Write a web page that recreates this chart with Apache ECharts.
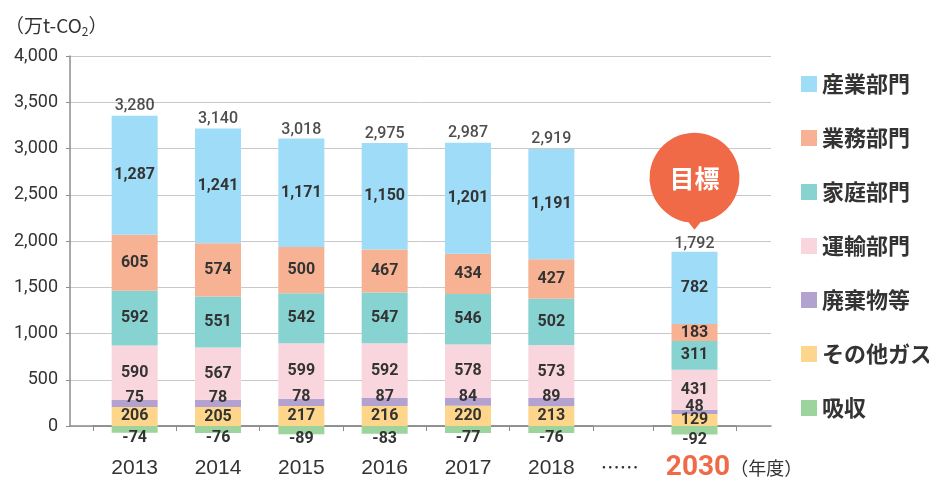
<!DOCTYPE html>
<html>
<head>
<meta charset="utf-8">
<script src="https://cdn.jsdelivr.net/npm/echarts@6/dist/echarts.min.js"></script>
<style>
  html, body { margin: 0; padding: 0; background: #fff; }
  #main { width: 929px; height: 479px; }
</style>
</head>
<body>
<div id="main"></div>
<script>
// data
var years = ['2013', '2014', '2015', '2016', '2017', '2018', '2030'];
var sangyo   = [1287, 1241, 1171, 1150, 1201, 1191, 782];
var gyomu    = [605, 574, 500, 467, 434, 427, 183];
var katei    = [592, 551, 542, 547, 546, 502, 311];
var unyu     = [590, 567, 599, 592, 578, 573, 431];
var haikibutsu = [75, 78, 78, 87, 84, 89, 48];
var sonota   = [206, 205, 217, 216, 220, 213, 129];
var kyushu   = [-74, -76, -89, -83, -77, -76, -92];
var totals   = [3280, 3140, 3018, 2975, 2987, 2919, 1792];
var yTicks   = [0, 4000, 500];

var sectors = [
    { name: 'その他ガス', data: sonota, color: '#fed68b' },
    { name: '廃棄物等', data: haikibutsu, color: '#b3a2d0', offset: [0, -5] },
    { name: '運輸部門', data: unyu, color: '#f9d6de' },
    { name: '家庭部門', data: katei, color: '#87d3d1' },
    { name: '業務部門', data: gyomu, color: '#f7b293' },
    { name: '産業部門', data: sangyo, color: '#9fdcf7' },
    { name: '吸収', data: kyushu, color: '#9dd39d', neg: true }
];

var myChart = echarts.init(document.getElementById('main'));

function fmt(v) {
    return String(v).replace(/\B(?=(\d{3})+(?!\d))/g, ',');
}

var axisGray = '#8c8c8c';
var numFont = 'Roboto';

var series = [];
[1, 2].forEach(function (g) {
    var from = g === 1 ? 0 : 6, to = g === 1 ? 6 : 7;
    sectors.forEach(function (s) {
        series.push({
            name: s.name,
            type: 'bar',
            xAxisIndex: g,
            yAxisIndex: g,
            stack: 'g' + g,
            barWidth: 46,
            data: s.data.slice(from, to),
            itemStyle: { color: s.color },
            label: {
                show: true,
                position: s.neg ? 'outside' : 'inside',
                distance: -3,
                offset: s.offset || [0, 0],
                color: '#333',
                fontFamily: numFont,
                fontWeight: 'bold',
                fontSize: 16,
                formatter: function (p) { return fmt(p.value); }
            }
        });
    });
    // total labels
    var tot = {
        name: 'total',
        type: 'scatter',
        xAxisIndex: g,
        yAxisIndex: g,
        symbolSize: 1,
        itemStyle: { color: 'rgba(0,0,0,0)' },
        data: totals.slice(from, to),
        label: {
            show: true,
            position: 'top',
            distance: 8,
            color: '#222',
            fontFamily: numFont,
            fontWeight: 500,
            fontSize: 16,
            formatter: function (p) { return fmt(p.value); }
        }
    };
    if (g === 2) {
        tot.markPoint = {
            symbol: 'path://M39,89.6 A45,45 0 1,1 51,89.6 L45,97 Z',
            symbolSize: [90, 97],
            symbolOffset: [0, -79],
            itemStyle: { color: '#f06a48' },
            label: {
                show: true,
                formatter: '目標',
                color: '#fff',
                fontSize: 25,
                fontWeight: 'bold',
                fontFamily: 'Noto Sans CJK JP',
                offset: [0, -3]
            },
            data: [{ coord: [0, totals[6]] }]
        };
    }
    series.push(tot);
});

var yearLabel = {
    margin: 13,
    color: '#333',
    fontSize: 21,
    lineHeight: 30,
    fontFamily: "'Liberation Sans Narrow', 'Liberation Sans', sans-serif"
};

option = {
    animation: false,
    backgroundColor: '#fff',
    title: {
        text: '（万t-CO{s|2}）',
        left: 0,
        top: 10,
        textStyle: {
            color: '#333',
            fontSize: 19,
            fontWeight: 'normal',
            fontFamily: 'Noto Sans CJK JP',
            lineHeight: 22,
            rich: {
                s: { fontSize: 12, fontFamily: 'Noto Sans CJK JP', color: '#333', verticalAlign: 'bottom', lineHeight: 18 }
            }
        }
    },
    legend: {
        orient: 'vertical',
        left: 796,
        top: 68,
        itemWidth: 16,
        itemHeight: 16,
        itemGap: 32,
        icon: 'rect',
        data: ['産業部門', '業務部門', '家庭部門', '運輸部門', '廃棄物等', 'その他ガス', '吸収'],
        textStyle: {
            color: '#333',
            fontSize: 22,
            lineHeight: 22,
            fontWeight: 'bold',
            fontFamily: 'Noto Sans CJK JP'
        }
    },
    grid: [
        { left: 70, right: 158, top: 56, height: 370, outerBoundsMode: 'none' },
        { left: 93, width: 500, top: 56, height: 383.875, outerBoundsMode: 'none' },
        { left: 653, width: 83, top: 56, height: 383.875, outerBoundsMode: 'none' }
    ],
    xAxis: [
        {
            gridIndex: 0, type: 'category', data: [''],
            axisLine: { lineStyle: { color: axisGray, width: 1.5 } },
            axisTick: { show: false },
            axisLabel: { show: false }
        },
        {
            gridIndex: 1, type: 'category', data: years.slice(0, 6),
            axisLine: { onZero: true, lineStyle: { color: axisGray, width: 1.5 } },
            axisTick: { show: true, length: 5, lineStyle: { color: axisGray } },
            axisLabel: yearLabel
        },
        {
            gridIndex: 2, type: 'category', data: years.slice(6),
            axisLine: { onZero: true, lineStyle: { color: axisGray, width: 1.5 } },
            axisTick: { show: true, length: 5, lineStyle: { color: axisGray } },
            axisLabel: {
                margin: 13,
                formatter: function (v) {
                    return '{dots|……}{yr|' + v + '}{unit|（年度）}';
                },
                rich: {
                    dots: { fontSize: 19, color: '#333', fontFamily: 'Noto Sans CJK JP', lineHeight: 30, padding: [0, 27, 0, 14] },
                    yr: { fontSize: 28, color: '#f06a48', fontWeight: 'bold', fontFamily: numFont, lineHeight: 30 },
                    unit: { fontSize: 18, color: '#333', fontFamily: 'Noto Sans CJK JP', lineHeight: 30 }
                }
            }
        }
    ],
    yAxis: [
        {
            gridIndex: 0, type: 'value', min: yTicks[0], max: yTicks[1], interval: yTicks[2],
            axisLine: { show: true, lineStyle: { color: axisGray, width: 1.5 } },
            axisTick: { show: true, length: 4, lineStyle: { color: axisGray } },
            axisLabel: {
                color: '#333', fontSize: 18, fontFamily: numFont, margin: 12,
                formatter: function (v) { return fmt(v); }
            },
            splitLine: { lineStyle: { color: '#c8c8c8', width: 1 } }
        },
        { gridIndex: 1, type: 'value', min: -150, max: yTicks[1], show: false },
        { gridIndex: 2, type: 'value', min: -150, max: yTicks[1], show: false }
    ],
    series: series
};

myChart.setOption(option);
</script>
</body>
</html>
